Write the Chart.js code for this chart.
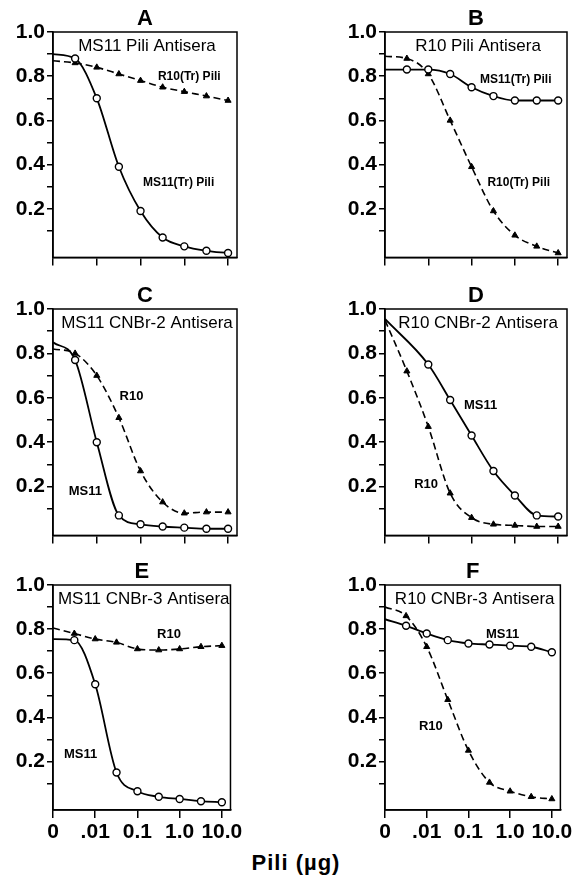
<!DOCTYPE html>
<html>
<head>
<meta charset="utf-8">
<script src="https://cdn.jsdelivr.net/npm/chart.js@4.4.0/dist/chart.umd.min.js"></script>
<style>
body { margin:0; background:#fff; }
#wrap { position:relative; width:587px; height:890px; }
canvas { position:absolute; }
#xlabel { position:absolute; left:0; width:592px; top:850px; line-height:26px; text-align:center;
  font: bold 22px "Liberation Sans", Arial, sans-serif; letter-spacing:1px; color:#000; }
</style>
</head>
<body>
<div id="wrap">
  <canvas id="cA" width="242" height="270" style="left:3px;top:2px"></canvas>
  <canvas id="cB" width="240" height="270" style="left:335px;top:2px"></canvas>
  <canvas id="cC" width="242" height="271" style="left:3px;top:279px"></canvas>
  <canvas id="cD" width="240" height="271" style="left:335px;top:279px"></canvas>
  <canvas id="cE" width="242" height="295" style="left:3px;top:555px"></canvas>
  <canvas id="cF" width="240" height="295" style="left:335px;top:555px"></canvas>
  <div id="xlabel">Pili (µg)</div>
</div>
<script>
// doses in µg; 0 sits at the broken left end of the log axis
var doses = [0, 0.0032, 0.01, 0.032, 0.1, 0.32, 1, 3.2, 10];
var zeroPos = 0.001;
var xTickValues = [0, 0.01, 0.1, 1, 10];
var xTickLabels = ['0', '.01', '0.1', '1.0', '10.0'];
var yTickValues = [0.1, 0.2, 0.3, 0.4, 0.5, 0.6, 0.7, 0.8, 0.9, 1.0];
var yTickLabels = ['', '0.2', '', '0.4', '', '0.6', '', '0.8', '', '1.0'];

// A - MS11 Pili Antisera
var aMS11 = [0.90, 0.88, 0.70, 0.39, 0.19, 0.07, 0.03, 0.01, 0.0];
var aR10  = [0.87, 0.86, 0.84, 0.81, 0.78, 0.75, 0.73, 0.71, 0.69];
// B - R10 Pili Antisera
var bMS11 = [0.83, 0.83, 0.83, 0.81, 0.75, 0.71, 0.69, 0.69, 0.69];
var bR10  = [0.89, 0.88, 0.81, 0.60, 0.39, 0.19, 0.08, 0.03, 0.0];
// C - MS11 CNBr-2 Antisera
var cMS11 = [0.85, 0.77, 0.40, 0.07, 0.03, 0.02, 0.015, 0.01, 0.01];
var cR10  = [0.82, 0.80, 0.70, 0.51, 0.27, 0.13, 0.08, 0.085, 0.085];
// D - R10 CNBr-2 Antisera
var dMS11 = [0.955, null, 0.75, 0.59, 0.43, 0.27, 0.16, 0.07, 0.065];
var dR10  = [0.95, 0.72, 0.47, 0.17, 0.06, 0.03, 0.025, 0.02, 0.02];
// E - MS11 CNBr-3 Antisera
var eMS11 = [0.755, 0.75, 0.55, 0.15, 0.065, 0.04, 0.03, 0.02, 0.015];
var eR10  = [0.805, 0.78, 0.755, 0.74, 0.71, 0.705, 0.71, 0.72, 0.725];
// F - R10 CNBr-3 Antisera
var fMS11 = [0.845, 0.815, 0.78, 0.75, 0.735, 0.73, 0.725, 0.72, 0.695];
var fR10  = [0.90, 0.86, 0.72, 0.48, 0.25, 0.105, 0.065, 0.04, 0.03];

var FONT = '"Liberation Sans", Arial, sans-serif';

var panels = [
  { id:'cA', letter:'A', heading:'MS11 Pili Antisera', solid:aMS11, dashed:aR10, bottom:false,
    labels:[{t:'R10(Tr) Pili', x:1.3, y:0.80, s:12}, {t:'MS11(Tr) Pili', x:0.74, y:0.32, s:12}] },
  { id:'cB', letter:'B', heading:'R10 Pili Antisera', solid:bMS11, dashed:bR10, bottom:false,
    labels:[{t:'MS11(Tr) Pili', x:1.05, y:0.785, s:12}, {t:'R10(Tr) Pili', x:1.23, y:0.32, s:12}] },
  { id:'cC', letter:'C', heading:'MS11 CNBr-2 Antisera', solid:cMS11, dashed:cR10, bottom:false,
    labels:[{t:'R10', x:0.062, y:0.607, s:13}, {t:'MS11', x:0.0055, y:0.18, s:13}] },
  { id:'cD', letter:'D', heading:'R10 CNBr-2 Antisera', solid:dMS11, dashed:dR10, bottom:false,
    labels:[{t:'MS11', x:0.162, y:0.565, s:13}, {t:'R10', x:0.0089, y:0.21, s:13}] },
  { id:'cE', letter:'E', heading:'MS11 CNBr-3 Antisera', solid:eMS11, dashed:eR10, bottom:true,
    labels:[{t:'R10', x:0.56, y:0.776, s:13}, {t:'MS11', x:0.0045, y:0.23, s:13}] },
  { id:'cF', letter:'F', heading:'R10 CNBr-3 Antisera', solid:fMS11, dashed:fR10, bottom:true,
    labels:[{t:'MS11', x:0.66, y:0.776, s:13}, {t:'R10', x:0.0126, y:0.36, s:13}] }
];

function toPoints(vals) {
  return doses.map(function(d, i) { return { x: d === 0 ? zeroPos : d, y: vals[i] }; });
}

var markerSize = function(ctx) { return doses[ctx.dataIndex] === 0 ? 0 : 3.5; };

panels.forEach(function(p) {
  var textPlugin = {
    id: 'panelText' + p.letter,
    afterDatasetsDraw: function(chart) {
      var ctx = chart.ctx, a = chart.chartArea, xs = chart.scales.x, ys = chart.scales.y;
      ctx.save();
      ctx.strokeStyle = '#000';
      ctx.lineWidth = 1.5;
      ctx.strokeRect(a.left, a.top, a.right - a.left, a.bottom - a.top);
      ctx.fillStyle = '#000';
      ctx.textAlign = 'center';
      ctx.textBaseline = 'middle';
      ctx.font = '17px ' + FONT;
      ctx.fillText(p.heading, (a.left + a.right) / 2 + 2, ys.getPixelForValue(0.935));
      p.labels.forEach(function(l) {
        ctx.font = 'bold ' + l.s + 'px ' + FONT;
        ctx.fillText(l.t, xs.getPixelForValue(l.x), ys.getPixelForValue(l.y));
      });
      ctx.restore();
    }
  };

  new Chart(document.getElementById(p.id), {
    type: 'line',
    data: {
      datasets: [
        {
          label: 'MS11',
          data: toPoints(p.solid),
          borderColor: '#000', borderWidth: 1.8,
          cubicInterpolationMode: 'monotone', spanGaps: true,
          pointStyle: 'circle', pointRadius: markerSize, pointBorderWidth: 1.4,
          pointBackgroundColor: '#fff', pointBorderColor: '#000'
        },
        {
          label: 'R10',
          data: toPoints(p.dashed),
          borderColor: '#000', borderWidth: 1.6, borderDash: [7, 4],
          cubicInterpolationMode: 'monotone', spanGaps: true,
          pointStyle: 'triangle', pointRadius: markerSize, pointBorderWidth: 1,
          pointBackgroundColor: '#000', pointBorderColor: '#000'
        }
      ]
    },
    options: {
      responsive: false,
      animation: false,
      devicePixelRatio: 1,
      events: [],
      layout: { padding: { left: 0, right: 8, top: 0, bottom: 0 } },
      plugins: {
        legend: { display: false },
        tooltip: { enabled: false },
        title: {
          display: true, text: p.letter, fullSize: false, color: '#000',
          font: { family: FONT, size: 22, weight: 'bold', lineHeight: 1.0 },
          padding: { top: 6, bottom: 2 }
        }
      },
      scales: {
        x: {
          type: 'logarithmic', min: zeroPos, max: 16,
          afterBuildTicks: function(s) {
            s.ticks = xTickValues.map(function(v) { return { value: v === 0 ? zeroPos : v }; });
          },
          afterFit: function(s) { s.height = p.bottom ? 40 : 14; },
          grid: { display: true, drawOnChartArea: false, drawTicks: true, tickLength: 8, color: '#000', lineWidth: 1.5 },
          border: { display: true, color: '#000', width: 1.5 },
          ticks: {
            autoSkip: false, maxRotation: 0, padding: 2, color: '#000',
            font: { family: FONT, size: 21, weight: 'bold' },
            callback: function(v, i) { return p.bottom ? xTickLabels[i] : ''; }
          }
        },
        y: {
          type: 'linear', min: -0.02, max: 1.0,
          afterBuildTicks: function(s) {
            s.ticks = yTickValues.map(function(v) { return { value: v }; });
          },
          afterFit: function(s) { s.width = 50; },
          grid: { display: true, drawOnChartArea: false, drawTicks: true, tickLength: 6, color: '#000', lineWidth: 1.5 },
          border: { display: true, color: '#000', width: 1.5 },
          ticks: {
            autoSkip: false, padding: 2, color: '#000',
            font: { family: FONT, size: 21, weight: 'bold' },
            callback: function(v, i) { return yTickLabels[i]; }
          }
        }
      }
    },
    plugins: [textPlugin]
  });
});
</script>
</body>
</html>
